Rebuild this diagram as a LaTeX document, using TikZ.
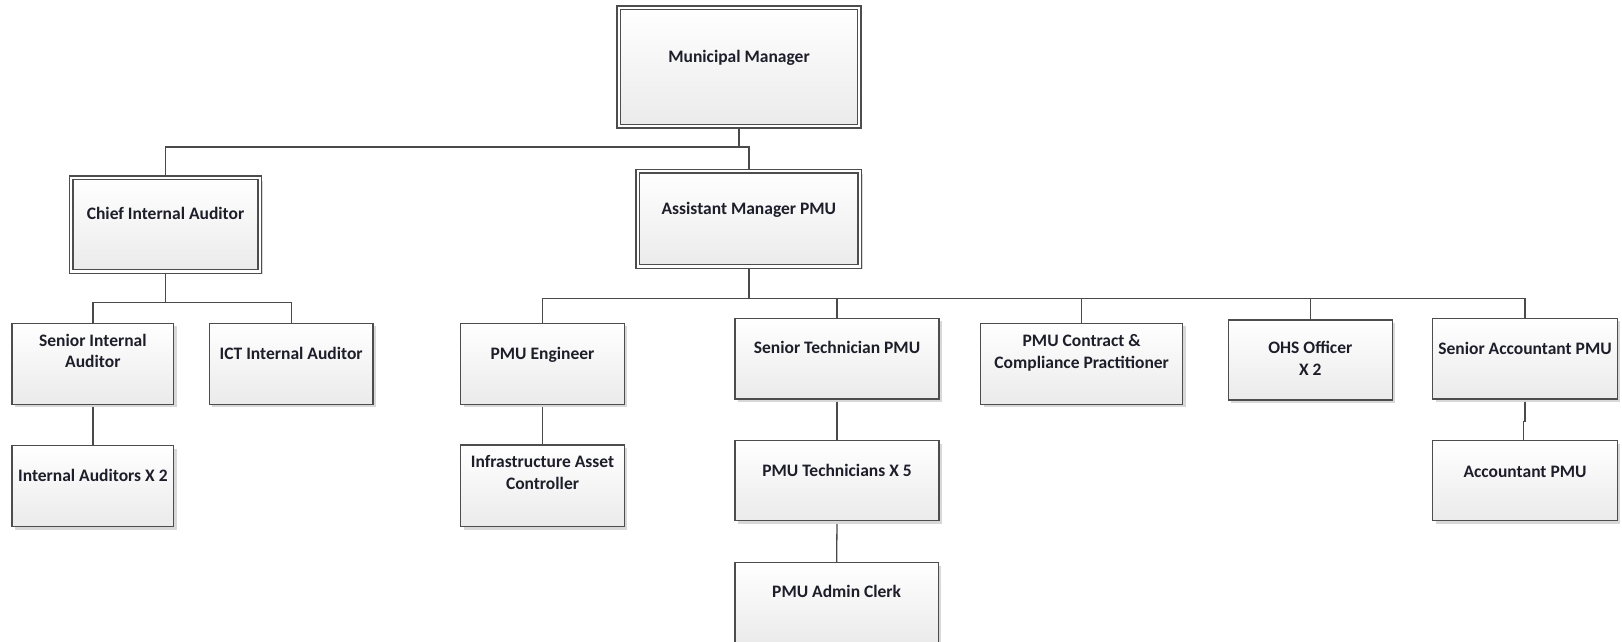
\documentclass[tikz,border=0pt]{standalone}
\usepackage{fontspec}
\setmainfont{Carlito}
\usetikzlibrary{shadows,backgrounds}
\definecolor{boxline}{HTML}{4D4D4D}
\definecolor{wire}{HTML}{4A4A4A}
\definecolor{ink}{HTML}{1E1E2A}
\definecolor{shade}{HTML}{D8D8D8}
\begin{document}
\begin{tikzpicture}[x=1pt,y=-1pt,
  orgbox/.style={draw=boxline, line width=1.3pt, top color=white, bottom color=black!8,
    inner sep=0pt, outer sep=0pt,
    general shadow={fill=shade, shadow xshift=3pt, shadow yshift=-3pt}},
  headbox/.style={orgbox, double=white, double distance=2.4pt},
  lbl/.style={anchor=north, inner sep=0pt, align=center, text=ink,
    font=\fontsize{17.5}{21.5}\selectfont\bfseries, execute at begin node=\strut},
  conn/.style={draw=wire, line width=1.3pt}
]
\useasboundingbox (0,0) rectangle (1622,642);

% senior positions (double framed)
\node[headbox, minimum width=240.3pt, minimum height=118.3pt] (mm)  at (739,67) {};
\node[headbox, minimum width=188.7pt, minimum height=93.6pt]  (cia) at (165.5,224.65) {};
\node[headbox, minimum width=222pt,   minimum height=95.3pt]  (am)  at (748.85,218.8) {};

% internal audit unit
\node[orgbox, minimum width=161.7pt, minimum height=81pt] (sia) at (92.85,363.8) {};
\node[orgbox, minimum width=163.7pt, minimum height=81pt] (ict) at (291.15,363.8) {};
\node[orgbox, minimum width=161.7pt, minimum height=81pt] (ia)  at (92.85,486.2) {};

% project management unit
\node[orgbox, minimum width=163.6pt, minimum height=81pt]   (pe)  at (542.5,363.8) {};
\node[orgbox, minimum width=163.6pt, minimum height=81.7pt] (iac) at (542.5,485.85) {};
\node[orgbox, minimum width=204pt,   minimum height=80.7pt] (stp) at (837,358.65) {};
\node[orgbox, minimum width=204pt,   minimum height=80pt]   (pt)  at (837,480.7) {};
\node[orgbox, minimum width=203.3pt, minimum height=81.3pt] (pac) at (836.65,603.35) {};
\node[orgbox, minimum width=202pt,   minimum height=81pt]   (pcc) at (1081.7,363.8) {};
\node[orgbox, minimum width=164pt,   minimum height=80pt]   (ohs) at (1310.3,360) {};
\node[orgbox, minimum width=184.6pt, minimum height=80.7pt] (sap) at (1525,358.65) {};
\node[orgbox, minimum width=184.6pt, minimum height=80pt]   (ap)  at (1525,480.7) {};

% titles
\node[lbl] (mm-l)  at (739,47)     {Municipal Manager};
\node[lbl] (cia-l) at (165.5,204)  {Chief Internal Auditor};
\node[lbl] (am-l)  at (748.85,199) {Assistant Manager PMU};
\node[lbl] (sia-l) at (92.85,333.7) {Senior Internal\\Auditor};
\node[lbl] (ict-l) at (291.15,344.3) {ICT Internal Auditor};
\node[lbl] (ia-l)  at (92.85,466)  {Internal Auditors X 2};
\node[lbl] (pe-l)  at (542.5,344.3) {PMU Engineer};
\node[lbl] (iac-l) at (542.5,455.3) {Infrastructure Asset\\Controller};
\node[lbl] (stp-l) at (837,338.7)  {Senior Technician PMU};
\node[lbl] (pt-l)  at (837,461)    {PMU Technicians X 5};
\node[lbl] (pac-l) at (836.65,582.7) {PMU Admin Clerk};
\node[lbl] (pcc-l) at (1081.7,334.7) {PMU Contract \&\\Compliance Practitioner};
\node[lbl] (ohs-l) at (1310.3,341) {OHS Officer\\X 2};
\node[lbl] (sap-l) at (1525,339.3) {Senior Accountant PMU};
\node[lbl] (ap-l)  at (1525,462.7) {Accountant PMU};

% reporting lines
\coordinate (busA) at (0,147);
\coordinate (busB) at (0,298.3);
\coordinate (busC) at (0,302.7);
\begin{scope}[on background layer]
  \fill[white] (0,0) rectangle (1622,642);
  \draw[conn] (mm.south) -- (mm.south |- busA) -| (cia.north);
  \draw[conn] (mm.south |- busA) -| (am.north);
  \draw[conn] (cia.south) -- (cia.south |- busC) -| (sia.north);
  \draw[conn] (cia.south |- busC) -| (ict.north);
  \draw[conn] (sia.south) -- (ia.north);
  \draw[conn] (am.south) -- (am.south |- busB) -| (pe.north);
  \draw[conn] (am.south |- busB) -| (stp.north);
  \draw[conn] (am.south |- busB) -| (pcc.north);
  \draw[conn] (am.south |- busB) -| (ohs.north);
  \draw[conn] (am.south |- busB) -| (sap.north);
  \draw[conn] (pe.south) -- (iac.north);
  \draw[conn] (stp.south) -- (pt.north);
  \draw[conn] (pt.south) -- (pac.north);
  \draw[conn] (sap.south) -- ++(0,22.7) coordinate (jog)
    -- ([xshift=-1.2pt]jog) -- ([xshift=-1.2pt]ap.north);
\end{scope}
\end{tikzpicture}
\end{document}
